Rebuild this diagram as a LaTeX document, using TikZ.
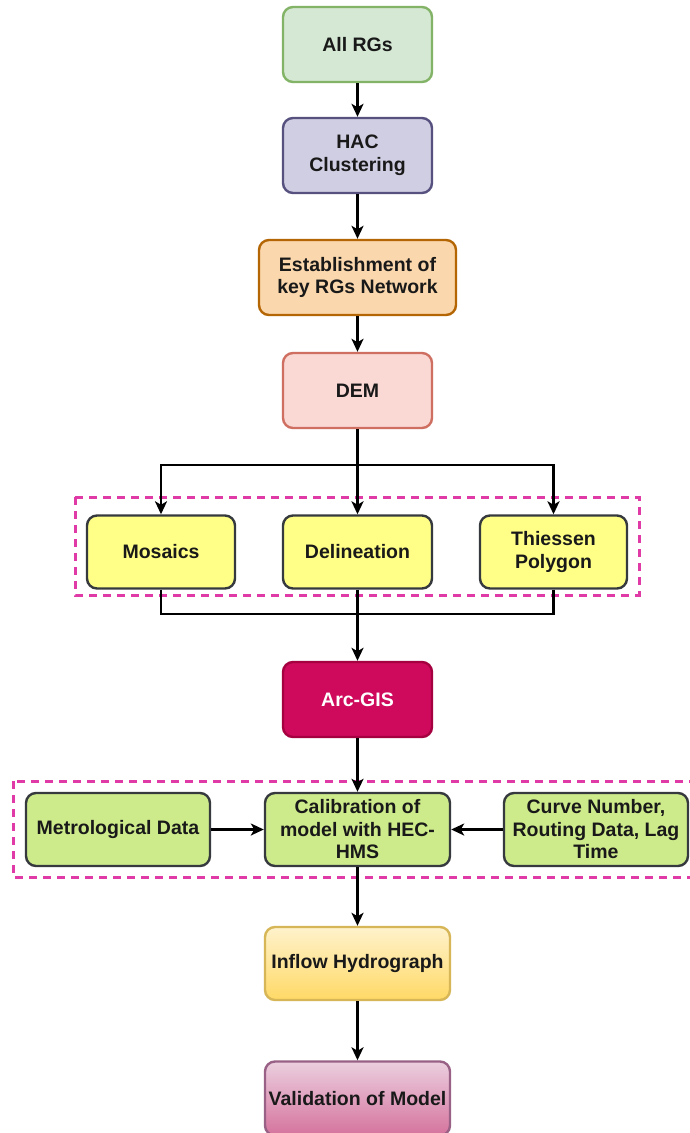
\documentclass[tikz,border=0pt]{standalone}
\usepackage{fontspec}
\setmainfont{Liberation Sans}
\usetikzlibrary{arrows.meta}
\definecolor{dashpink}{HTML}{E03AA6}
\definecolor{darkline}{HTML}{36393D}
\definecolor{rgsfill}{HTML}{D5E8D4}\definecolor{rgsline}{HTML}{82B366}
\definecolor{hacfill}{HTML}{D0CEE2}\definecolor{hacline}{HTML}{56517E}
\definecolor{estfill}{HTML}{FAD7AC}\definecolor{estline}{HTML}{B46504}
\definecolor{demfill}{HTML}{FAD9D5}\definecolor{demline}{HTML}{CF6F62}
\definecolor{yelfill}{HTML}{FFFF88}
\definecolor{arcfill}{HTML}{CF0A5C}\definecolor{arcline}{HTML}{A50040}
\definecolor{grnfill}{HTML}{CDEB8B}
\definecolor{inftop}{HTML}{FFF2CC}\definecolor{infbot}{HTML}{FFD966}\definecolor{infline}{HTML}{D6B656}
\definecolor{valtop}{HTML}{EBCFDF}\definecolor{valbot}{HTML}{D5739D}\definecolor{valline}{HTML}{996185}
\begin{document}
\begin{tikzpicture}[x=1pt,y=-1pt,
    box/.style={draw, rounded corners=10pt, line width=2.4pt, align=center,
      minimum width=149pt, minimum height=75pt, inner sep=2pt, text=black!90,
      font=\bfseries\fontsize{19.5}{22.5}\selectfont},
    wide/.style={minimum width=185pt, minimum height=73pt},
    yellowbox/.style={box, fill=yelfill, draw=darkline, minimum height=73pt},
    greenbox/.style={box, wide, fill=grnfill, draw=darkline},
    group/.style={draw=dashpink, line width=3pt, dash pattern=on 8pt off 6pt}]
  \clip (0,0) rectangle (690,1133);
  \fill[white] (0,0) rectangle (690,1133);
  \draw[group] (75,497) rectangle (639,595);
  \draw[group] (13,781) rectangle (700,877);
  \path
    (357.5,44.5) node[box, fill=rgsfill, draw=rgsline] (rgs) {All RGs}
    (357.5,155.5) node[box, fill=hacfill, draw=hacline] (hac) {HAC\\Clustering}
    (357.5,277.5) node[box, minimum width=197pt, fill=estfill, draw=estline] (est) {Establishment of\\key RGs Network}
    (357.5,390.5) node[box, fill=demfill, draw=demline] (dem) {DEM}
    (161,552) node[yellowbox, minimum width=148pt] (mos) {Mosaics}
    (357.5,552) node[yellowbox] (del) {Delineation}
    (553.5,552) node[yellowbox, minimum width=147pt] (thi) {Thiessen\\Polygon}
    (357.5,699.5) node[box, fill=arcfill, draw=arcline, text=white] (arc) {Arc-GIS}
    (118,829.5) node[greenbox, minimum width=184pt] (met) {Metrological Data}
    (357.5,829.5) node[greenbox] (cal) {Calibration of\\model with HEC-\\HMS}
    (596,829.5) node[greenbox, minimum width=184pt] (cur) {Curve Number,\\Routing Data, Lag\\Time}
    (357.5,963.5) node[box, wide, top color=inftop, bottom color=infbot, draw=infline] (inf) {Inflow Hydrograph}
    (357.5,1098.5) node[box, wide, minimum height=74pt, top color=valtop, bottom color=valbot, draw=valline] (val) {Validation of Model};
  \coordinate (split) at (357.5,465);
  \coordinate (join) at (357.5,614);
  \begin{scope}[line width=2.5pt, -{Stealth[length=13pt,width=12pt,inset=3.5pt]}]
    \draw (rgs) to (hac);
    \draw (hac) to (est);
    \draw (est) to (dem);
    \draw (dem) to (del);
    \draw (split) -| (mos);
    \draw (split) -| (thi);
    \draw (del) to (arc);
    \draw (arc) to (cal);
    \draw (met) to (cal);
    \draw (cur) to (cal);
    \draw (cal) to (inf);
    \draw (inf) to (val);
  \end{scope}
  \begin{scope}[line width=2.5pt]
    \draw (mos) |- (join);
    \draw (thi) |- (join);
  \end{scope}
\end{tikzpicture}
\end{document}
